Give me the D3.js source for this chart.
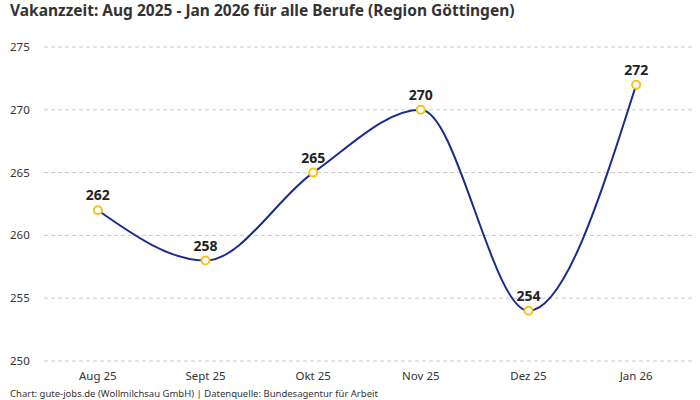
<!DOCTYPE html>
<html>
<head>
<meta charset="utf-8">
<script src="https://cdn.jsdelivr.net/npm/d3@7"></script>
<style>
  body { margin: 0; background: #fff; }
  svg { font-family: "Noto Sans", sans-serif; }
</style>
</head>
<body>
<div id="chart"></div>
<script>
// Data
const months = ["Aug 25", "Sept 25", "Okt 25", "Nov 25", "Dez 25", "Jan 26"];
const vakanz = [262, 258, 265, 270, 254, 272];
const yTicks = [250, 255, 260, 265, 270, 275];

const width = 700,
    height = 400;

const svg = d3
    .select("#chart")
    .append("svg")
    .attr("width", width)
    .attr("height", height);

// Scales
const x = d3.scalePoint().domain(months).range([44, 690]).padding(0.5);
const y = d3.scaleLinear().domain([250, 275]).range([361, 47]);

// Title
svg.append("text")
    .attr("x", 10)
    .attr("y", 16)
    .style("font-size", "15.5px")
    .style("font-weight", "bold")
    .style("fill", "#333")
    .text("Vakanzzeit: Aug 2025 - Jan 2026 für alle Berufe (Region Göttingen)");

// Gridlines + y labels
const yAxis = svg.append("g");
yAxis.selectAll("line")
    .data(yTicks)
    .enter()
    .append("line")
    .attr("x1", 44)
    .attr("x2", 692)
    .attr("y1", (d) => y(d))
    .attr("y2", (d) => y(d))
    .style("stroke", "#ccc")
    .style("stroke-dasharray", "4,3");

yAxis.selectAll("text")
    .data(yTicks)
    .enter()
    .append("text")
    .attr("x", 10)
    .attr("y", (d) => y(d) + 4)
    .style("font-size", "11.5px")
    .style("fill", "#333")
    .text((d) => d);

// X labels
svg.append("g")
    .selectAll("text")
    .data(months)
    .enter()
    .append("text")
    .attr("x", (d) => x(d))
    .attr("y", 380)
    .attr("text-anchor", "middle")
    .style("font-size", "11.5px")
    .style("fill", "#333")
    .text((d) => d);

// Line
const line = d3
    .line()
    .x((d, i) => x(months[i]))
    .y((d) => y(d))
    .curve(d3.curveMonotoneX);

svg.append("path")
    .datum(vakanz)
    .attr("d", line)
    .style("fill", "none")
    .style("stroke", "#1b2a8c")
    .style("stroke-width", 2);

// Points
svg.selectAll("circle")
    .data(vakanz)
    .enter()
    .append("circle")
    .attr("cx", (d, i) => x(months[i]))
    .attr("cy", (d) => y(d))
    .attr("r", 4)
    .style("fill", "#fff")
    .style("stroke", "#f7c21c")
    .style("stroke-width", 2);

// Value labels
svg.append("g")
    .selectAll("text")
    .data(vakanz)
    .enter()
    .append("text")
    .attr("x", (d, i) => x(months[i]))
    .attr("y", (d) => y(d) - 10)
    .attr("text-anchor", "middle")
    .style("font-size", "14px")
    .style("font-weight", "bold")
    .style("fill", "#222")
    .text((d) => d);

// Footer
svg.append("text")
    .attr("x", 10)
    .attr("y", 397)
    .style("font-size", "9.5px")
    .style("fill", "#333")
    .text("Chart: gute-jobs.de (Wollmilchsau GmbH) | Datenquelle: Bundesagentur für Arbeit");
</script>
</body>
</html>
